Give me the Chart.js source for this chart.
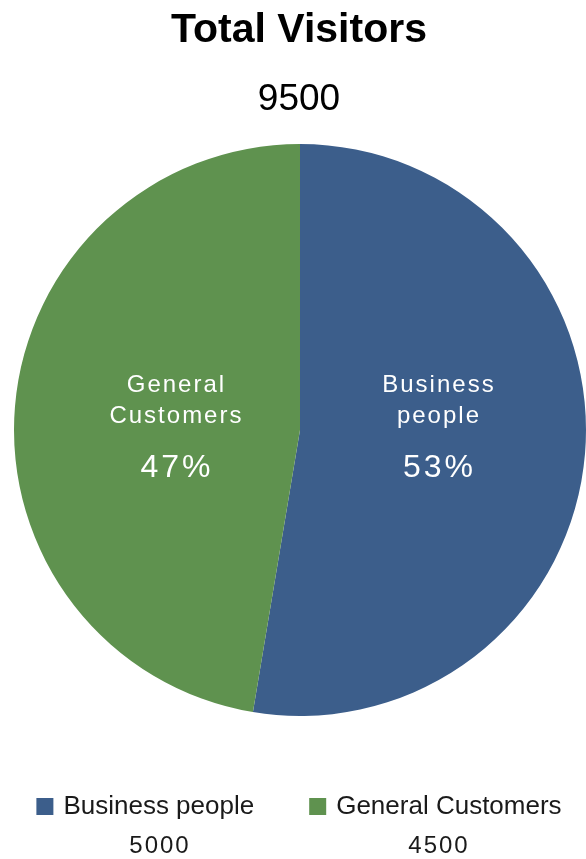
<!DOCTYPE html>
<html>
<head>
<meta charset="utf-8">
<script src="https://cdn.jsdelivr.net/npm/chart.js@4"></script>
<style>
  html, body { margin: 0; padding: 0; background: #ffffff; }
  #wrap { width: 586px; height: 859px; position: relative; }
</style>
</head>
<body>
<div id="wrap"><canvas id="c" width="586" height="859"></canvas></div>
<script>
const chartTitle = 'Total Visitors';
const categories = ['Business people', 'General Customers'];
const sliceLabelLines = [['Business', 'people'], ['General', 'Customers']];
const visitors = [5000, 4500];
const sliceColors = ['#3C5E8B', '#5F924F'];

const FONT = '"Liberation Sans", Arial, sans-serif';
const labelRadius = [0.484, 0.437];

const overlay = {
  id: 'overlay',
  afterDatasetsDraw(chart) {
    const ctx = chart.ctx;
    const meta = chart.getDatasetMeta(0);
    const data = chart.data.datasets[0].data;
    const sum = data.reduce((a, b) => a + b, 0);
    const first = meta.data[0];
    const cx = first.x, cy = first.y;
    ctx.save();
    ctx.textAlign = 'center';
    ctx.textBaseline = 'alphabetic';
    ctx.fillStyle = '#ffffff';
    meta.data.forEach((arc, i) => {
      const mid = (arc.startAngle + arc.endAngle) / 2;
      const r = arc.outerRadius * labelRadius[i];
      const x = cx + Math.cos(mid) * r;
      const lines = sliceLabelLines[i];
      ctx.font = '24px ' + FONT;
      ctx.letterSpacing = '2px';
      ctx.fillText(lines[0], x + 1, cy - 38);
      ctx.fillText(lines[1], x + 1, cy - 7);
      ctx.font = '32px ' + FONT;
      ctx.letterSpacing = '3px';
      ctx.fillText(Math.round(data[i] / sum * 100) + '%', x + 1.5, cy + 47);
    });
    ctx.restore();
  },
  afterDraw(chart) {
    const ctx = chart.ctx;
    const data = chart.data.datasets[0].data;
    const sum = data.reduce((a, b) => a + b, 0);
    const cx = 299;
    ctx.save();
    ctx.fillStyle = '#000000';
    ctx.textAlign = 'center';
    ctx.textBaseline = 'alphabetic';
    ctx.font = 'bold 41px ' + FONT;
    ctx.fillText(chartTitle, cx, 42);
    ctx.font = '37px ' + FONT;
    ctx.fillText(String(sum), cx, 110);

    // legend
    ctx.font = '26px ' + FONT;
    ctx.letterSpacing = '0px';
    const box = 17, boxGap = 10, itemGap = 55;
    const widths = chart.data.labels.map(l => ctx.measureText(l).width);
    const totalW = widths.reduce((a, w) => a + box + boxGap + w, 0) + itemGap * (widths.length - 1);
    let x = cx - totalW / 2;
    const baseY = 814;
    const valueXs = [cx - 140, cx + 139];
    chart.data.labels.forEach((l, i) => {
      ctx.fillStyle = chart.data.datasets[0].backgroundColor[i];
      ctx.fillRect(x, baseY - 16, box, box);
      ctx.fillStyle = '#1a1a1a';
      ctx.textAlign = 'left';
      ctx.fillText(l, x + box + boxGap, baseY);
      x += box + boxGap + widths[i] + itemGap;
    });
    ctx.font = '24px ' + FONT;
    ctx.letterSpacing = '2px';
    ctx.textAlign = 'center';
    ctx.fillStyle = '#1a1a1a';
    data.forEach((v, i) => {
      ctx.fillText(String(v), valueXs[i] + 1, 853);
    });
    ctx.restore();
  }
};

new Chart(document.getElementById('c'), {
  type: 'pie',
  data: {
    labels: categories,
    datasets: [{
      data: visitors,
      backgroundColor: sliceColors,
      borderWidth: 0
    }]
  },
  options: {
    responsive: false,
    animation: false,
    devicePixelRatio: 1,
    layout: { padding: { left: 14, right: 0, top: 144, bottom: 143 } },
    plugins: {
      legend: { display: false },
      title: { display: false },
      tooltip: { enabled: false }
    }
  },
  plugins: [overlay]
});
</script>
</body>
</html>
